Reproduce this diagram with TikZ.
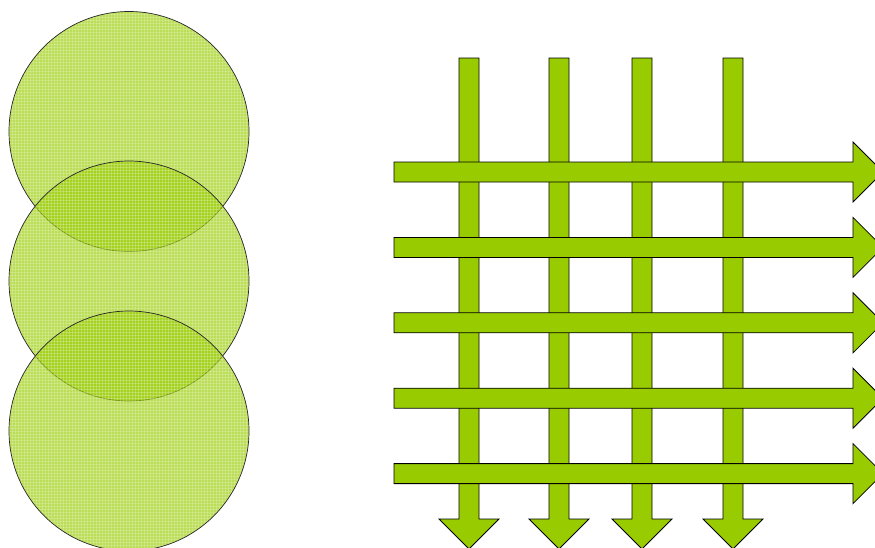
\documentclass[tikz,border=0pt]{standalone}
\usetikzlibrary{}
\definecolor{tlime}{RGB}{153,204,0}

\begin{document}
\begin{tikzpicture}[
    x=1pt, y=-1pt,
    disc/.style={circle, draw=black!85, line width=0.7pt, fill=tlime,
                 fill opacity=0.66, minimum size=240pt, inner sep=0pt,
                 path picture={
                   \foreach \g in {-120,-117,...,120} {
                     \draw[white, line width=0.6pt, draw opacity=0.2]
                       ([xshift=\g pt]path picture bounding box.north)
                       -- ([xshift=\g pt]path picture bounding box.south);
                     \draw[white, line width=0.6pt, draw opacity=0.2]
                       ([yshift=\g pt]path picture bounding box.west)
                       -- ([yshift=\g pt]path picture bounding box.east);
                   }}},
    bararrow/.style={draw=black, line width=0.8pt, fill=tlime, line join=miter},
]
\useasboundingbox (0,0) rectangle (875,547);

% ---------- stacked discs ----------
\node[disc] (top) at (129,131.5) {};
\node[disc] (mid) at (129,281)   {};
\node[disc] (bot) at (129,431)   {};

% ---------- downward arrows ----------
\foreach \c in {469,559,642,733}
  \draw[bararrow] ({\c-10},58) -- ({\c+10},58) -- ({\c+10},519) -- ({\c+30},519)
    -- (\c,549) -- ({\c-30},519) -- ({\c-10},519) -- cycle;

% ---------- rightward arrows (on top) ----------
\foreach \c in {172,247.4,322.8,398.2,473.6}
  \draw[bararrow] (394,{\c-10}) -- (853,{\c-10}) -- (853,{\c-30}) -- (883,\c)
    -- (853,{\c+30}) -- (853,{\c+10}) -- (394,{\c+10}) -- cycle;

\end{tikzpicture}
\end{document}
